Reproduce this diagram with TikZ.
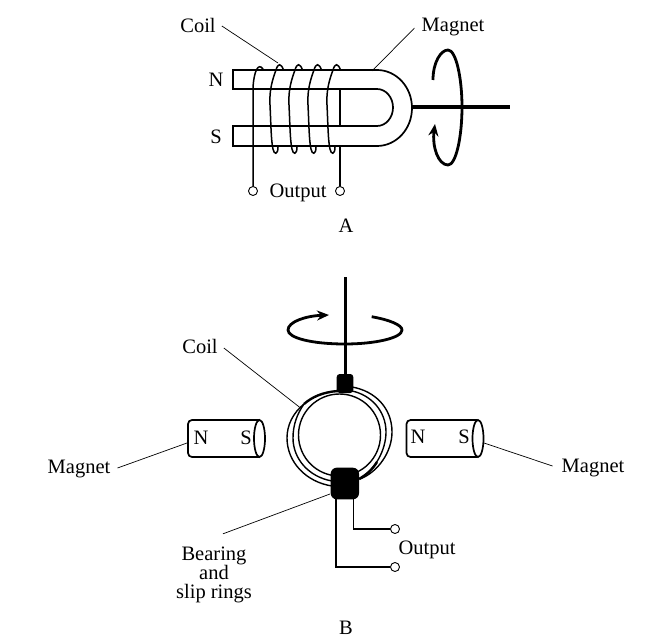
\documentclass[tikz,border=0pt]{standalone}
\usepackage{fontspec}
\setmainfont{Liberation Serif}
\usetikzlibrary{arrows.meta}
\tikzset{
  lbl/.style={inner sep=0pt,font=\fontsize{20.5}{21}\selectfont},
  leader/.style={line width=0.7pt},
  outline/.style={line width=1.7pt},
  wire/.style={line width=1.5pt},
  term/.style={circle,draw,fill=white,line width=0.9pt,minimum size=9pt,inner sep=0pt},
  blockb/.style={fill=black,rounded corners=3pt},
  spin/.style={line width=2.8pt,-{Stealth[length=12pt,width=10pt]}},
  turn/.style={line width=1.4pt}
}
\begin{document}
\begin{tikzpicture}[x=1pt,y=-1pt]
\useasboundingbox (0,0) rectangle (655,644);
\fill[white] (0,0) rectangle (655,644);
% ---- A
\draw[outline] (233,70) -- (377,70) arc[start angle=-90,end angle=90,x radius=35,y radius=38] -- (233,146) -- (233,126) -- (377,126)
  arc[start angle=90,end angle=-90,x radius=16,y radius=18.5] -- (233,89) -- cycle;
\draw[outline] (340,89) -- (340,126);
\draw[line width=3.4pt] (412,107) -- (510,107);
\node[term] (a1) at (253,191) {};
\node[term] (a2) at (340,191) {};
\draw[wire] (a1) -- (253,87) .. controls (254,72) and (258,62) .. (263,69);
\foreach \d in {0,19,38,57}{
 \draw[wire,xshift=\d] (283.5,70) .. controls (281,63) and (278,63) .. (276,70)
   .. controls (273,78) and (269,90) .. (270,105) .. controls (271,125) and (271,140) .. (273,149)
   .. controls (274,155) and (278,155) .. (278,147);
}
\draw[wire] (a2) -- (340,146);
\draw[spin] (433,80) .. controls (433,62) and (441,50) .. (448,50) .. controls (456,50) and (462,78) .. (462,107)
  .. controls (462,137) and (456,165) .. (448,165) .. controls (438,165) and (432,146) .. (435,124);
\node[lbl] (coilA) at (198,25) {Coil};
\node[lbl] (magA) at (453,27) {Magnet};
\node[lbl] at (216,80) {N};
\node[lbl] at (216,137) {S};
\node[lbl] at (298,192.5) {Output};
\node[lbl] at (346,226) {A};
\coordinate (coilAe) at (278,63);
\coordinate (magAe) at (372,71);
\draw[leader] (coilA.east)++(6,1) -- (coilAe);
\draw[leader] (magA.west)++(-7,1) -- (magAe);
% ---- B
\draw[turn] (339.5,435) circle[radius=41pt];
\draw[turn] (304,404) .. controls (293,413) and (287,425) .. (287,438) .. controls (287,462) and (306,482) .. (332,486);
\draw[turn] (304,404) .. controls (297,414) and (293,425) .. (293,438) .. controls (293,459) and (309,477) .. (332,481);
\draw[turn] (352,387) .. controls (375,391) and (392,408) .. (392,432) .. controls (392,452) and (378,472) .. (360,479);
\draw[turn] (352,391) .. controls (371,395) and (386,411) .. (386,432) .. controls (386,450) and (375,470) .. (360,478.5);
\draw[line width=2.4pt] (304,404) .. controls (312,397) and (323,392) .. (338,391);
\draw[line width=2.4pt] (359,479) .. controls (366,475) and (372,470) .. (377,462);
\draw[line width=3pt] (345.3,277) -- (345.3,378);
\draw[spin] (371.7,316.7) .. controls (390,320) and (402,325) .. (402,330)
  .. controls (402,338) and (375,344) .. (345,344) .. controls (312,344) and (288,338) .. (288,330)
  .. controls (288,322) and (305,316) .. (329,315);
\fill[blockb] (336.7,374) rectangle (353.3,393);
\fill[blockb,rounded corners=6pt] (330.7,467.7) rectangle (359,499.3);
\coordinate (bl) at (336,499); \coordinate (br) at (353.7,499);
\node[term] (b1) at (395,529) {};
\node[term] (b2) at (395,567) {};
\draw[wire] (br) -- (353.7,529) -- (b1);
\draw[wire] (bl) -- (336,567) -- (b2);
\foreach \n/\x in {m1/188,m2/406.5}{
 \draw[outline,rounded corners=4pt] (\x+71,420) -- (\x,420) -- (\x,457) -- (\x+71,457);
 \draw[outline] (\x+71.5,438.5) ellipse[x radius=5.5pt,y radius=18.5pt];
}
\coordinate (m1l) at (187,443); \coordinate (m2r) at (484,443);
\coordinate (coilBe) at (299.3,407); \coordinate (brgE) at (330,494);
\node[lbl] at (201,438) {N};
\node[lbl] at (246,438) {S};
\node[lbl] at (418,437) {N};
\node[lbl] at (464,437) {S};
\node[lbl] (magL) at (79,469) {Magnet};
\node[lbl] (magR) at (593,468) {Magnet};
\node[lbl] (coilB) at (200,346) {Coil};
\node[lbl] at (427,550) {Output};
\node[lbl,align=center,font=\fontsize{20.5}{19}\selectfont] (brg) at (214,575) {Bearing\\and\\slip rings};
\node[lbl] at (346,628) {B};
\draw[leader] (magL.east)++(7,-1) -- (m1l);
\draw[leader] (magR.west)++(-9,-2) -- (m2r);
\draw[leader] (coilB.east)++(6,2) -- (coilBe);
\draw[leader] (brg.north)++(9,-13) -- (brgE);
\end{tikzpicture}
\end{document}
